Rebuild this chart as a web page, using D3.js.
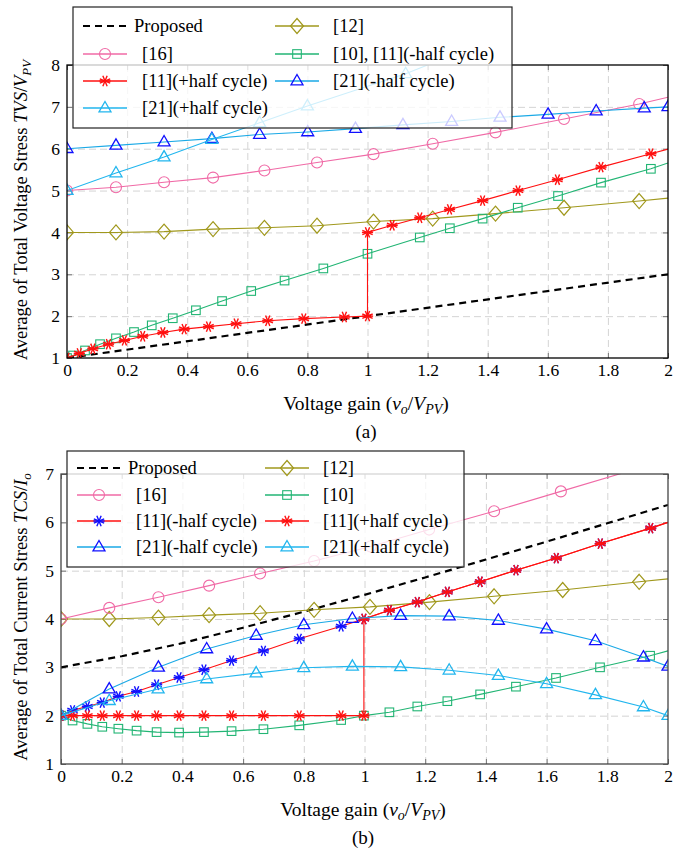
<!DOCTYPE html>
<html>
<head>
<meta charset="utf-8">
<script src="https://cdn.jsdelivr.net/npm/d3@7"></script>
<style>
  body { margin: 0; background: #fff; }
  svg text { font-family: "Liberation Serif", "Times New Roman", Times, serif; }
  .grid line { stroke: #d4d4d4; stroke-dasharray: 7,4; }
  .grid path { display: none; }
  .inner line { stroke: #777; }
  .inner path { display: none; }
  .labels path { display: none; }
  .labels text { font-size: 17.5px; fill: #000; }
</style>
</head>
<body>
<svg id="chart" width="684" height="848"></svg>
<script>
// tick values / labels
const xTicks = [0, 0.2, 0.4, 0.6, 0.8, 1, 1.2, 1.4, 1.6, 1.8, 2];
const xTickLabels = ['0', '0.2', '0.4', '0.6', '0.8', '1', '1.2', '1.4', '1.6', '1.8', '2'];
const yTicksA = [1, 2, 3, 4, 5, 6, 7, 8];
const yTicksB = [1, 2, 3, 4, 5, 6, 7];

// (a) total voltage stress; a third value 0 = no marker on that point
const aProposed = [[0, 1], [1, 2], [2, 3]];
const a12 = [[0, 4.0], [0.163, 4.0], [0.323, 4.02], [0.486, 4.08], [0.657, 4.11], [0.832, 4.16], [1.02, 4.26],
  [1.217, 4.33], [1.426, 4.45], [1.654, 4.59], [1.904, 4.75], [2, 4.82, 0]];
const a16 = [[0, 5.0], [0.163, 5.08], [0.323, 5.2], [0.486, 5.31], [0.657, 5.48], [0.832, 5.67], [1.02, 5.87],
  [1.217, 6.12], [1.426, 6.39], [1.654, 6.71], [1.904, 7.07], [2, 7.23, 0]];
const a10 = [[0, 1.0], [0.02, 1.06], [0.06, 1.18], [0.11, 1.33], [0.163, 1.47], [0.223, 1.62], [0.282, 1.78],
  [0.352, 1.95], [0.429, 2.14], [0.516, 2.36], [0.613, 2.6], [0.724, 2.85], [0.853, 3.14], [1.0, 3.49],
  [1.174, 3.88], [1.274, 4.1], [1.383, 4.33], [1.5, 4.59], [1.634, 4.87], [1.777, 5.19], [1.943, 5.52], [2, 5.66, 0]];
const a11p = [[0, 1.0], [0.041, 1.11], [0.086, 1.22], [0.138, 1.33], [0.191, 1.42], [0.252, 1.52], [0.319, 1.61],
  [0.39, 1.69], [0.471, 1.75], [0.563, 1.82], [0.668, 1.89], [0.788, 1.94], [0.923, 1.98], [1.0, 2.0],
  [1.0, 4.0], [1.082, 4.17], [1.174, 4.35], [1.273, 4.55], [1.383, 4.76], [1.501, 5.0], [1.632, 5.26],
  [1.777, 5.56], [1.943, 5.88], [2, 5.99, 0]];
const a21m = [[0, 6.0], [0.163, 6.08], [0.323, 6.16], [0.482, 6.24], [0.641, 6.34], [0.801, 6.4], [0.96, 6.48],
  [1.118, 6.57], [1.28, 6.65], [1.441, 6.75], [1.601, 6.82], [1.761, 6.9], [1.921, 6.97], [2, 7.0]];
const a21p = [[0, 5.0], [0.163, 5.42], [0.323, 5.8], [0.482, 6.22], [0.641, 6.62], [0.8, 7.02], [1.127, 7.79],
  [1.2, 8.0, 0]];

// (b) total current stress
const bProposed = [[0, 3.0], [0.2, 3.23], [0.4, 3.5], [0.6, 3.82], [0.8, 4.15], [1.0, 4.5], [1.2, 4.86],
  [1.4, 5.23], [1.6, 5.6], [1.8, 5.98], [2, 6.36]];
const b12 = [[0, 4.0], [0.159, 4.0], [0.321, 4.03], [0.488, 4.08], [0.656, 4.12], [0.834, 4.19], [1.018, 4.25],
  [1.214, 4.35], [1.427, 4.47], [1.653, 4.6], [1.905, 4.77], [2, 4.83, 0]];
const b16 = [[0, 4.0], [0.159, 4.23], [0.321, 4.45], [0.488, 4.69], [0.656, 4.94], [0.834, 5.2], [1.02, 5.5],
  [1.213, 5.85], [1.427, 6.23], [1.647, 6.64], [2, 7.3, 0]];
const b10 = [[0, 2.0], [0.038, 1.9], [0.087, 1.83], [0.136, 1.77], [0.189, 1.73], [0.249, 1.69], [0.315, 1.66],
  [0.389, 1.65], [0.471, 1.66], [0.562, 1.68], [0.667, 1.72], [0.785, 1.8], [0.923, 1.91], [0.998, 2.0],
  [1.082, 2.07], [1.174, 2.19], [1.273, 2.3], [1.381, 2.44], [1.499, 2.6], [1.631, 2.78], [1.776, 3.0],
  [1.941, 3.24], [2, 3.34, 0]];
const b11m = [[0, 2.0], [0.038, 2.11], [0.087, 2.19], [0.136, 2.27], [0.189, 2.4], [0.249, 2.5], [0.315, 2.64],
  [0.389, 2.79], [0.471, 2.95], [0.562, 3.14], [0.667, 3.34], [0.785, 3.59], [0.923, 3.85], [0.998, 4.0],
  [1.082, 4.18], [1.174, 4.35], [1.273, 4.56], [1.381, 4.77], [1.499, 5.01], [1.632, 5.26], [1.777, 5.56],
  [1.943, 5.88], [2, 6.0, 0]];
const b11p = [[0, 2.0], [0.038, 2.0], [0.087, 2.0], [0.136, 2.0], [0.189, 2.0], [0.249, 2.0], [0.315, 2.0],
  [0.389, 2.0], [0.471, 2.0], [0.562, 2.0], [0.667, 2.0], [0.785, 2.0], [0.923, 2.0], [0.998, 2.0],
  [0.998, 4.0], [1.082, 4.18], [1.174, 4.35], [1.273, 4.56], [1.381, 4.77], [1.499, 5.01], [1.632, 5.26],
  [1.777, 5.56], [1.943, 5.88], [2, 6.0, 0]];
const b21m = [[0, 2.0], [0.159, 2.55], [0.321, 3.0], [0.48, 3.38], [0.643, 3.66], [0.8, 3.88], [0.96, 4.01],
  [1.119, 4.07], [1.279, 4.06], [1.441, 3.97], [1.6, 3.79], [1.761, 3.55], [1.919, 3.21], [2, 3.02]];
const b21p = [[0, 2.0], [0.159, 2.31], [0.32, 2.55], [0.48, 2.76], [0.643, 2.88], [0.8, 2.99], [0.96, 3.02],
  [1.119, 3.01], [1.279, 2.94], [1.441, 2.83], [1.6, 2.66], [1.761, 2.43], [1.919, 2.18], [2, 2.0]];

const C = {
  pink: '#f06aa6', olive: '#a0981c', green: '#22b574', red: '#ff1010',
  cyan: '#1aa9e6', blue: '#1010ff', lblue: '#22b6ee'
};
const SERIF = '"Liberation Serif", "Times New Roman", Times, serif';

const svg = d3.select('#chart');

function marker(g, type, x, y, stroke) {
  if (type === 'circle') {
    g.append('circle').attr('cx', x).attr('cy', y).attr('r', 5.5)
      .attr('fill', 'none').attr('stroke', stroke).attr('stroke-width', 1.1);
  } else if (type === 'diamond') {
    g.append('path').attr('d', `M${x},${y - 7.5}L${x + 6.5},${y}L${x},${y + 7.5}L${x - 6.5},${y}Z`)
      .attr('fill', 'none').attr('stroke', stroke).attr('stroke-width', 1.2);
  } else if (type === 'square') {
    g.append('rect').attr('x', x - 4.3).attr('y', y - 4.3).attr('width', 8.6).attr('height', 8.6)
      .attr('fill', 'none').attr('stroke', stroke).attr('stroke-width', 1.1);
  } else if (type === 'triangle') {
    g.append('path').attr('d', `M${x},${y - 6.5}L${x + 6},${y + 3.8}L${x - 6},${y + 3.8}Z`)
      .attr('fill', 'none').attr('stroke', stroke).attr('stroke-width', 1.3);
  } else if (type === 'asterisk') {
    const r = 5.6;
    for (let k = 0; k < 4; k++) {
      const a = k * Math.PI / 4 + Math.PI / 8;
      g.append('line')
        .attr('x1', x - r * Math.cos(a)).attr('y1', y - r * Math.sin(a))
        .attr('x2', x + r * Math.cos(a)).attr('y2', y + r * Math.sin(a))
        .attr('stroke', stroke).attr('stroke-width', 1.4);
    }
    g.append('line').attr('x1', x - r).attr('x2', x + r).attr('y1', y).attr('y2', y)
      .attr('stroke', stroke).attr('stroke-width', 1.4);
  }
}

function panel(p) {
  const g = svg.append('g');
  const w = p.right - p.left, h = p.bottom - p.top;
  const x = d3.scaleLinear().domain([0, 2]).range([p.left, p.right]);
  const y = d3.scaleLinear().domain(p.yDomain).range([p.bottom, p.top]);

  // grid
  g.append('g').attr('class', 'grid').attr('transform', `translate(0,${p.bottom})`)
    .call(d3.axisBottom(x).tickValues(xTicks.slice(1, -1)).tickSize(-h).tickFormat(''));
  g.append('g').attr('class', 'grid').attr('transform', `translate(${p.left},0)`)
    .call(d3.axisLeft(y).tickValues(p.yTicks.slice(1, -1)).tickSize(-w).tickFormat(''));

  // inner ticks
  g.append('g').attr('class', 'inner').attr('transform', `translate(0,${p.bottom})`)
    .call(d3.axisBottom(x).tickValues(xTicks).tickSize(-5).tickFormat(''));
  g.append('g').attr('class', 'inner').attr('transform', `translate(0,${p.top})`)
    .call(d3.axisTop(x).tickValues(xTicks).tickSize(-5).tickFormat(''));
  g.append('g').attr('class', 'inner').attr('transform', `translate(${p.left},0)`)
    .call(d3.axisLeft(y).tickValues(p.yTicks).tickSize(-5).tickFormat(''));
  g.append('g').attr('class', 'inner').attr('transform', `translate(${p.right},0)`)
    .call(d3.axisRight(y).tickValues(p.yTicks).tickSize(-5).tickFormat(''));

  // tick labels
  g.append('g').attr('class', 'labels').attr('transform', `translate(0,${p.bottom})`)
    .call(d3.axisBottom(x).tickValues(xTicks).tickSize(0).tickPadding(6)
      .tickFormat((d, i) => xTickLabels[i]))
    .attr('font-family', SERIF);
  g.append('g').attr('class', 'labels').attr('transform', `translate(${p.left},0)`)
    .call(d3.axisLeft(y).tickValues(p.yTicks).tickSize(0).tickPadding(7).tickFormat(d3.format('d')))
    .attr('font-family', SERIF);

  // series
  const clipId = 'clip' + p.id;
  svg.append('clipPath').attr('id', clipId).append('rect')
    .attr('x', p.left).attr('y', p.top).attr('width', w).attr('height', h);
  const plot = g.append('g').attr('clip-path', `url(#${clipId})`);
  const line = d3.line().x(d => x(d[0])).y(d => y(d[1]));
  p.series.forEach(s => {
    plot.append('path').datum(s.data).attr('d', line).attr('fill', 'none')
      .attr('stroke', s.line).attr('stroke-width', s.dash ? 2.2 : 1.1)
      .attr('stroke-dasharray', s.dash ? '7,5' : null);
    if (s.mark) {
      s.data.filter(d => d[2] !== 0).forEach(d => marker(plot, s.mark, x(d[0]), y(d[1]), s.mcol));
    }
  });

  // frame
  g.append('rect').attr('x', p.left).attr('y', p.top).attr('width', w).attr('height', h)
    .attr('fill', 'none').attr('stroke', p.frame).attr('stroke-width', 1.3);

  // axis titles
  const xt = g.append('text').attr('x', p.xmid).attr('y', p.bottom + 52)
    .attr('text-anchor', 'middle').attr('font-size', 19.5).attr('font-family', SERIF);
  xt.append('tspan').text('Voltage gain (');
  xt.append('tspan').attr('font-style', 'italic').text('v');
  xt.append('tspan').attr('font-style', 'italic').attr('font-size', 14).attr('dy', 4).text('o');
  xt.append('tspan').attr('dy', -4).text('/');
  xt.append('tspan').attr('font-style', 'italic').text('V');
  xt.append('tspan').attr('font-style', 'italic').attr('font-size', 14).attr('dy', 4).text('PV');
  xt.append('tspan').attr('dy', -4).text(')');

  g.append('text').attr('x', p.xmid).attr('y', p.bottom + 80)
    .attr('text-anchor', 'middle').attr('font-size', 19).attr('font-family', SERIF).text(p.caption);

  const yt = g.append('text').attr('transform', `translate(27,${p.ymid}) rotate(-90)`)
    .attr('text-anchor', 'middle').attr('font-size', 18.5).attr('font-family', SERIF);
  yt.append('tspan').text(p.ytitle + ' ');
  yt.append('tspan').attr('font-style', 'italic').text(p.yvar);
  yt.append('tspan').text('/');
  yt.append('tspan').attr('font-style', 'italic').text(p.yden);
  yt.append('tspan').attr('font-style', 'italic').attr('font-size', 13).attr('dy', 4).text(p.ysub);

  // legend
  const L = p.legend;
  const lg = g.append('g');
  lg.append('rect').attr('x', L.x).attr('y', L.y).attr('width', L.w).attr('height', L.h)
    .attr('fill', '#fff').attr('fill-opacity', 0.78).attr('stroke', '#222').attr('stroke-width', 1.2);
  L.items.forEach(it => {
    const cx = it.col === 0 ? L.c0 : L.c1;
    const tx = it.col === 0 ? L.t0 : L.t1;
    const ry = L.rows[it.row];
    const s = it.s;
    lg.append('line').attr('x1', cx - 22).attr('x2', cx + 22).attr('y1', ry).attr('y2', ry)
      .attr('stroke', s.line).attr('stroke-width', s.dash ? 2.2 : 1.5)
      .attr('stroke-dasharray', s.dash ? '7,5' : null);
    if (s.mark) marker(lg, s.mark, cx, ry, s.mcol);
    lg.append('text').attr('x', tx + (it.indent || 0)).attr('y', ry + 6)
      .attr('font-size', 18.5).attr('font-family', SERIF).text(it.label);
  });
}

// series styling
const sProp = d => ({ data: d, line: '#000', dash: true });
const s12 = d => ({ data: d, line: C.olive, mark: 'diamond', mcol: C.olive });
const s16 = d => ({ data: d, line: C.pink, mark: 'circle', mcol: C.pink });
const s10 = d => ({ data: d, line: C.green, mark: 'square', mcol: C.green });
const s11p = d => ({ data: d, line: C.red, mark: 'asterisk', mcol: C.red });
const s11m = d => ({ data: d, line: C.red, mark: 'asterisk', mcol: C.blue });
const s21m = d => ({ data: d, line: C.cyan, mark: 'triangle', mcol: C.blue });
const s21p = d => ({ data: d, line: C.lblue, mark: 'triangle', mcol: C.lblue });

const A = [sProp(aProposed), s12(a12), s16(a16), s10(a10), s11p(a11p), s21m(a21m), s21p(a21p)];
panel({
  id: 'a', left: 67, right: 668, top: 65, bottom: 358, yDomain: [1, 8], yTicks: yTicksA,
  frame: '#000', caption: '(a)', xmid: 366, ymid: 210,
  ytitle: 'Average of Total Voltage Stress', yvar: 'TVS', yden: 'V', ysub: 'PV',
  series: A,
  legend: {
    x: 73, y: 7, w: 439, h: 121, rows: [26, 54, 81, 108], c0: 105, t0: 134, c1: 297, t1: 333,
    items: [
      { s: A[0], col: 0, row: 0, label: 'Proposed' },
      { s: A[1], col: 1, row: 0, label: '[12]' },
      { s: A[2], col: 0, row: 1, label: '[16]', indent: 8 },
      { s: A[3], col: 1, row: 1, label: '[10], [11](-half cycle)' },
      { s: A[4], col: 0, row: 2, label: '[11](+half cycle)', indent: 8 },
      { s: A[5], col: 1, row: 2, label: '[21](-half cycle)' },
      { s: A[6], col: 0, row: 3, label: '[21](+half cycle)', indent: 8 }
    ]
  }
});

const B = [sProp(bProposed), s12(b12), s16(b16), s10(b10), s11m(b11m), s11p(b11p), s21m(b21m), s21p(b21p)];
panel({
  id: 'b', left: 61, right: 668, top: 474, bottom: 764, yDomain: [1, 7], yTicks: yTicksB,
  frame: '#444', caption: '(b)', xmid: 363, ymid: 617,
  ytitle: 'Average of Total Current Stress', yvar: 'TCS', yden: 'I', ysub: 'o',
  series: B,
  legend: {
    x: 67, y: 451, w: 397, h: 116, rows: [468, 495, 521, 547], c0: 99, t0: 128, c1: 287, t1: 323,
    items: [
      { s: B[0], col: 0, row: 0, label: 'Proposed' },
      { s: B[1], col: 1, row: 0, label: '[12]' },
      { s: B[2], col: 0, row: 1, label: '[16]', indent: 8 },
      { s: B[3], col: 1, row: 1, label: '[10]' },
      { s: B[4], col: 0, row: 2, label: '[11](-half cycle)', indent: 8 },
      { s: B[5], col: 1, row: 2, label: '[11](+half cycle)' },
      { s: B[6], col: 0, row: 3, label: '[21](-half cycle)', indent: 8 },
      { s: B[7], col: 1, row: 3, label: '[21](+half cycle)' }
    ]
  }
});
</script>
</body>
</html>
